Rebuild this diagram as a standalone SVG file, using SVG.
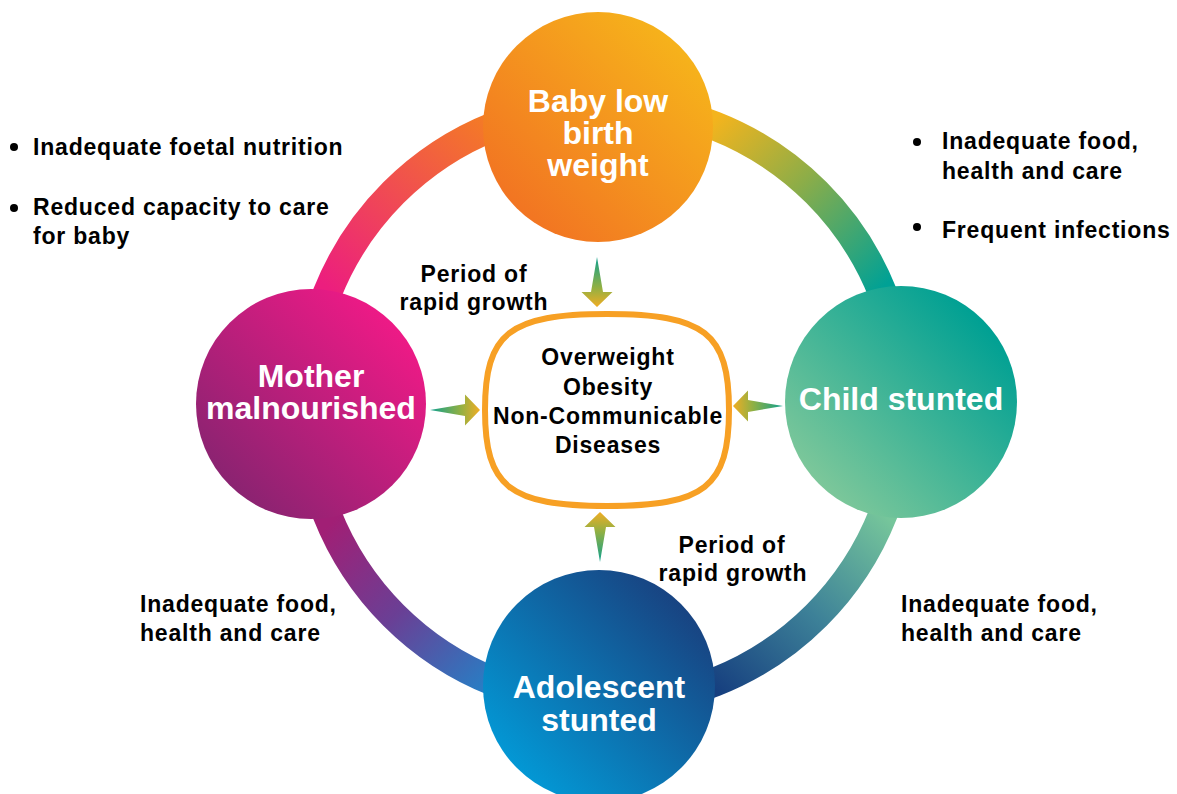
<svg xmlns="http://www.w3.org/2000/svg" width="1177" height="794" viewBox="0 0 1177 794">
<style>
.lbl{font-family:"Liberation Sans",Arial,sans-serif;font-weight:bold;font-size:32px;fill:#ffffff;text-anchor:middle}
.txt{font-family:"Liberation Sans",Arial,sans-serif;font-weight:bold;font-size:23px;fill:#000000;letter-spacing:0.8px}
.mid{text-anchor:middle}
.ring{fill:none;stroke-width:29}
.arrow{fill:url(#gArrow)}
</style>
<defs>
<linearGradient id="gTL" gradientUnits="userSpaceOnUse" x1="480" y1="115" x2="330" y2="290"><stop offset="0" stop-color="#f47a26"/><stop offset="1" stop-color="#ec1e7e"/></linearGradient>
<linearGradient id="gTR" gradientUnits="userSpaceOnUse" x1="713" y1="120" x2="880" y2="290"><stop offset="0" stop-color="#f4b41d"/><stop offset="0.45" stop-color="#8cad48"/><stop offset="1" stop-color="#00a195"/></linearGradient>
<linearGradient id="gBR" gradientUnits="userSpaceOnUse" x1="880" y1="510" x2="715" y2="690"><stop offset="0" stop-color="#76c69b"/><stop offset="0.5" stop-color="#3d8198"/><stop offset="1" stop-color="#163f7f"/></linearGradient>
<linearGradient id="gBL" gradientUnits="userSpaceOnUse" x1="340" y1="515" x2="490" y2="680"><stop offset="0" stop-color="#a11f75"/><stop offset="0.5" stop-color="#6a3f95"/><stop offset="1" stop-color="#2a7cc3"/></linearGradient>
<linearGradient id="gBaby" x1="0.15" y1="0.85" x2="0.85" y2="0.15"><stop offset="0" stop-color="#f27522"/><stop offset="1" stop-color="#f6b21b"/></linearGradient>
<linearGradient id="gMother" x1="0.15" y1="0.85" x2="0.85" y2="0.15"><stop offset="0" stop-color="#8b2371"/><stop offset="1" stop-color="#ed1a86"/></linearGradient>
<linearGradient id="gChild" x1="0.15" y1="0.85" x2="0.85" y2="0.15"><stop offset="0" stop-color="#7cc79a"/><stop offset="1" stop-color="#00a093"/></linearGradient>
<linearGradient id="gAdol" x1="0.15" y1="0.85" x2="0.85" y2="0.15"><stop offset="0" stop-color="#0397d4"/><stop offset="1" stop-color="#184482"/></linearGradient>
<linearGradient id="gArrow" x1="0" y1="0" x2="1" y2="0"><stop offset="0" stop-color="#0fa08e"/><stop offset="0.6" stop-color="#8fb044"/><stop offset="1" stop-color="#f0ad24"/></linearGradient>
<path id="arrowShape" d="M0,0 L35,-6 L35,-15.5 L50,0 L35,15.5 L35,6 Z"/>
</defs>

<g id="connectors">
<path class="ring" stroke="url(#gTL)" d="M306,404 A299,299 0 0 1 605,105"/>
<path class="ring" stroke="url(#gTR)" d="M605,105 A299,299 0 0 1 904,404"/>
<path class="ring" stroke="url(#gBR)" d="M904,404 A299,299 0 0 1 605,703"/>
<path class="ring" stroke="url(#gBL)" d="M605,703 A299,299 0 0 1 306,404"/>
<use href="#arrowShape" class="arrow" transform="translate(597,257) rotate(90)"/>
<use href="#arrowShape" class="arrow" transform="translate(430,410)"/>
<use href="#arrowShape" class="arrow" transform="translate(783,406) rotate(180)"/>
<use href="#arrowShape" class="arrow" transform="translate(600,562) rotate(-90)"/>
</g>

<g id="baby">
<circle cx="598" cy="127" r="115" fill="url(#gBaby)"/>
<text class="lbl" x="598" y="112">Baby low</text>
<text class="lbl" x="598" y="144">birth</text>
<text class="lbl" x="598" y="176">weight</text>
</g>

<g id="mother">
<circle cx="311" cy="404" r="115" fill="url(#gMother)"/>
<text class="lbl" x="311" y="387">Mother</text>
<text class="lbl" x="311" y="419">malnourished</text>
</g>

<g id="child">
<circle cx="901" cy="402" r="116" fill="url(#gChild)"/>
<text class="lbl" x="901" y="410">Child stunted</text>
</g>

<g id="adolescent">
<circle cx="599" cy="686" r="116" fill="url(#gAdol)"/>
<text class="lbl" x="599" y="698">Adolescent</text>
<text class="lbl" x="599" y="731">stunted</text>
</g>

<g id="center">
<path d="M607,314 C704.6,314 729,333.2 729,410 C729,486.8 704.6,506 607,506 C509.4,506 485,486.8 485,410 C485,333.2 509.4,314 607,314 Z" fill="#ffffff" stroke="#f7a024" stroke-width="6"/>
<text class="txt mid" x="608" y="365">Overweight</text>
<text class="txt mid" x="608" y="395">Obesity</text>
<text class="txt mid" x="608" y="424">Non-Communicable</text>
<text class="txt mid" x="608" y="453">Diseases</text>
</g>

<g id="label-top-growth">
<text class="txt mid" x="474" y="282">Period of</text>
<text class="txt mid" x="474" y="310">rapid growth</text>
</g>

<g id="label-bottom-growth">
<text class="txt mid" x="732" y="553">Period of</text>
<text class="txt mid" x="733" y="581">rapid growth</text>
</g>

<g id="notes-top-left">
<circle cx="14" cy="147" r="4" fill="#000"/>
<text class="txt" x="33" y="155">Inadequate foetal nutrition</text>
<circle cx="14" cy="208" r="4" fill="#000"/>
<text class="txt" x="33" y="215">Reduced capacity to care</text>
<text class="txt" x="33" y="244">for baby</text>
</g>

<g id="notes-top-right">
<circle cx="917" cy="142" r="4" fill="#000"/>
<text class="txt" x="942" y="149">Inadequate food,</text>
<text class="txt" x="942" y="179">health and care</text>
<circle cx="917" cy="227" r="4" fill="#000"/>
<text class="txt" x="942" y="238">Frequent infections</text>
</g>

<g id="notes-bottom-left">
<text class="txt" x="140" y="612">Inadequate food,</text>
<text class="txt" x="140" y="641">health and care</text>
</g>

<g id="notes-bottom-right">
<text class="txt" x="901" y="612">Inadequate food,</text>
<text class="txt" x="901" y="641">health and care</text>
</g>
</svg>
